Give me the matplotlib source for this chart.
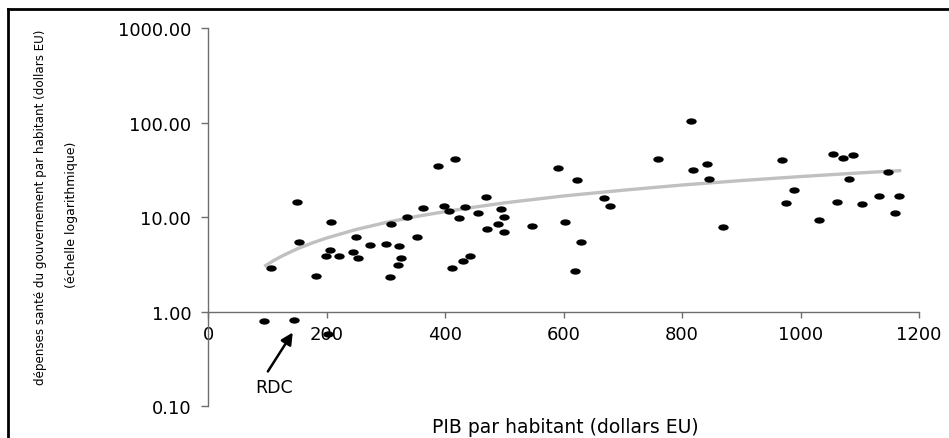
import numpy as np
import matplotlib
matplotlib.use("Agg")
import matplotlib.pyplot as plt
from matplotlib.path import Path
from matplotlib.transforms import Affine2D
from matplotlib.lines import Line2D

plt.rcParams['font.family'] = ['DejaVu Sans']

# PIB par habitant (dollars EU)
gdp = [95, 145, 203, 106, 150, 154, 182, 208, 206, 199, 221, 244, 253, 250, 273,
       301, 307, 322, 326, 321, 309, 335, 353, 362, 388, 417, 398, 406, 434, 424,
       412, 431, 443, 455, 470, 471, 489, 494, 500, 500, 546, 591, 603, 623, 629,
       620, 668, 679, 760, 816, 818, 843, 845, 869, 968, 975, 989, 1032, 1054,
       1071, 1089, 1062, 1082, 1103, 1132, 1148, 1160, 1167]
# dépenses santé du gouvernement par habitant (dollars EU)
health = [0.79, 0.81, 0.58, 2.92, 14.5, 5.5, 2.39, 8.8, 4.5, 3.9, 3.9, 4.3, 3.7, 6.2, 5.0,
          5.2, 2.29, 4.9, 3.7, 3.07, 8.4, 9.9, 6.1, 12.5, 34.5, 41.3, 13.2, 11.5, 12.8, 9.7,
          2.9, 3.4, 3.85, 10.9, 16.2, 7.5, 8.5, 12.3, 10.1, 7.0, 8.1, 32.9, 8.75, 24.7, 5.46,
          2.67, 16.0, 13.0, 41.3, 104, 31.6, 36.8, 25.5, 7.87, 40.3, 14.1, 19.2, 9.33, 46.6,
          42.3, 45.1, 14.3, 25.4, 13.6, 16.5, 30.1, 11.1, 16.5]

# trend line
trend_x = [95, 110, 125, 150, 175, 200, 250, 300, 350, 400, 450, 500, 600, 700,
           800, 900, 1000, 1100, 1170]
trend_y = [3.0, 3.44, 3.87, 4.59, 5.29, 5.99, 7.38, 8.74, 10.09, 11.4, 12.74, 14.1,
           16.7, 19.2, 21.8, 24.3, 26.8, 29.3, 31.0]

y_ticks = [0.1, 1, 10, 100, 1000]
x_ticks = [0, 200, 400, 600, 800, 1000, 1200]

fig = plt.figure(figsize=(9.49, 4.39), dpi=100)
ax = fig.add_axes([0.2192, 0.0729, 0.7492, 0.861])

ax.plot(trend_x, trend_y, color='#c0c0c0', lw=2.4, zorder=2, solid_capstyle='butt')

ell = Path.unit_circle().transformed(Affine2D().scale(1.65, 1.0))
ax.scatter(gdp, health, marker=ell, s=7.5 ** 2, color='black', zorder=3, linewidths=0)

ax.set_yscale('log')
ax.set_xlim(0, 1200)
ax.set_ylim(0.1, 1000)
ax.set_yticks(y_ticks)
ax.set_yticklabels([f"{v:.2f}" for v in y_ticks])
ax.yaxis.set_minor_locator(matplotlib.ticker.NullLocator())
ax.set_xticks(x_ticks)
ax.set_xticklabels([str(v) for v in x_ticks])

for s in ['top', 'right']:
    ax.spines[s].set_visible(False)
ax.spines['bottom'].set_position(('data', 1))
ax.spines['left'].set_position(('data', 0))
for s in ['bottom', 'left']:
    ax.spines[s].set_color('#6e6e6e')
    ax.spines[s].set_linewidth(1.0)
ax.tick_params(axis='y', length=5, width=1, color='#6e6e6e', pad=7, labelsize=13)
ax.tick_params(axis='x', length=4, width=1, color='#6e6e6e', pad=6, labelsize=13)
ax.patch.set_visible(False)

ax.annotate('', xy=(143, 0.6), xytext=(101, 0.232),
            arrowprops=dict(arrowstyle='-|>,head_width=0.35,head_length=0.7',
                            color='black', lw=1.8, shrinkA=0, shrinkB=0))
ax.text(111, 0.157, 'RDC', ha='center', va='center', fontsize=12.5)

fig.text(565 / 949, 1 - 428 / 439, 'PIB par habitant (dollars EU)', ha='center',
         va='center', fontsize=13.5)
fig.text(41 / 949, 1 - 207 / 439,
         'dépenses santé du gouvernement par habitant (dollars EU)',
         rotation=90, ha='center', va='center', fontsize=8.6)
fig.text(72 / 949, 1 - 215 / 439, '(échelle logarithmique)',
         rotation=90, ha='center', va='center', fontsize=9)

# frame (top and left edges visible)
fig.add_artist(Line2D([8 / 949, 8 / 949], [0, 1 - 10 / 439], transform=fig.transFigure,
                      color='black', lw=2))
fig.add_artist(Line2D([8 / 949, 1], [1 - 10 / 439, 1 - 10 / 439], transform=fig.transFigure,
                      color='black', lw=2))

fig.savefig('out.png', dpi=100)
